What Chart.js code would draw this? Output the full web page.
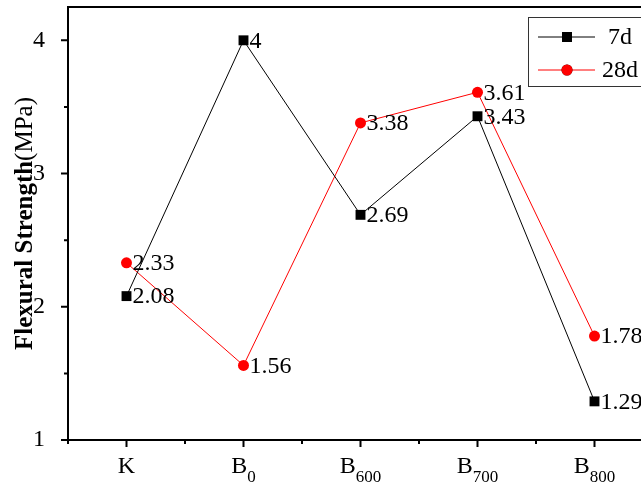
<!DOCTYPE html>
<html>
<head>
<meta charset="utf-8">
<script src="https://cdn.jsdelivr.net/npm/chart.js@4"></script>
<style>
html, body { margin: 0; padding: 0; overflow: hidden; background: #fff; }
#grafica { position: absolute; left: 0; top: 0; }
</style>
</head>
<body>
<canvas id="grafica" width="660" height="489"></canvas>
<script>
// categorias (la parte numerica se dibuja como subindice)
var categorias = ['K', 'B0', 'B600', 'B700', 'B800'];
var resistencia7d = [2.08, 4, 2.69, 3.43, 1.29];
var resistencia28d = [2.33, 1.56, 3.38, 3.61, 1.78];
var ticksY = [1, 2, 3, 4];
var ticksMenoresY = [1.5, 2.5, 3.5];
var nombreSeries = ['7d', '28d'];
var tituloNegrita = 'Flexural Strength';
var tituloNormal = '(MPa)';

var fuente = '"Liberation Serif", "Times New Roman", serif';

var dibujoExtra = {
    id: 'dibujoExtra',
    afterDraw: function (chart) {
        var ctx = chart.ctx;
        var area = chart.chartArea;
        var x = chart.scales.x;
        var y = chart.scales.y;
        ctx.save();

        // marco
        ctx.strokeStyle = '#000';
        ctx.lineWidth = 2;
        ctx.beginPath();
        ctx.moveTo(area.right + 5, area.top);
        ctx.lineTo(area.left, area.top);
        ctx.lineTo(area.left, area.bottom);
        ctx.lineTo(area.right + 5, area.bottom);
        ctx.stroke();

        // marcas eje x
        ctx.beginPath();
        categorias.forEach(function (c, i) {
            var px = x.getPixelForTick(i);
            ctx.moveTo(px, area.bottom);
            ctx.lineTo(px, area.bottom + 7);
        });
        for (var i = 0; i <= categorias.length; i++) {
            var pm = area.left + (i / categorias.length) * (area.right - area.left);
            ctx.moveTo(pm, area.bottom);
            ctx.lineTo(pm, area.bottom + 4);
        }
        // marcas eje y
        ticksY.forEach(function (v) {
            var py = y.getPixelForValue(v);
            ctx.moveTo(area.left, py);
            ctx.lineTo(area.left - 7, py);
        });
        ticksMenoresY.forEach(function (v) {
            var py = y.getPixelForValue(v);
            ctx.moveTo(area.left, py);
            ctx.lineTo(area.left - 4, py);
        });
        ctx.stroke();

        // etiquetas x con subindice
        ctx.fillStyle = '#000';
        ctx.textBaseline = 'alphabetic';
        ctx.textAlign = 'left';
        categorias.forEach(function (c, i) {
            var m = c.match(/^([A-Za-z]+)(\d*)$/);
            var base = m[1], sub = m[2];
            ctx.font = '24px ' + fuente;
            var wBase = ctx.measureText(base).width;
            ctx.font = '17px ' + fuente;
            var wSub = sub ? ctx.measureText(sub).width : 0;
            var inicio = x.getPixelForTick(i) - (wBase + wSub) / 2;
            ctx.font = '24px ' + fuente;
            ctx.fillText(base, inicio, 473);
            if (sub) {
                ctx.font = '17px ' + fuente;
                ctx.fillText(sub, inicio + wBase, 482);
            }
        });

        // titulo eje y
        ctx.save();
        ctx.translate(32, (area.top + area.bottom) / 2);
        ctx.rotate(-Math.PI / 2);
        ctx.font = 'bold 25px ' + fuente;
        var w1 = ctx.measureText(tituloNegrita).width;
        ctx.font = '25px ' + fuente;
        var w2 = ctx.measureText(tituloNormal).width;
        var x0 = -(w1 + w2) / 2;
        ctx.font = 'bold 25px ' + fuente;
        ctx.fillText(tituloNegrita, x0, 0);
        ctx.font = '25px ' + fuente;
        ctx.fillText(tituloNormal, x0 + w1, 0);
        ctx.restore();

        // etiquetas de datos
        ctx.font = '24px ' + fuente;
        ctx.textBaseline = 'middle';
        ctx.textAlign = 'left';
        chart.data.datasets.forEach(function (ds, di) {
            var meta = chart.getDatasetMeta(di);
            meta.data.forEach(function (p, j) {
                ctx.fillText(String(ds.data[j]), p.x + 6, p.y + 1);
            });
        });

        // leyenda
        ctx.strokeStyle = '#333';
        ctx.lineWidth = 1;
        ctx.strokeRect(528.5, 17.5, 140, 69);
        var filas = [37, 70];
        chart.data.datasets.forEach(function (ds, di) {
            var ly = filas[di];
            ctx.strokeStyle = ds.borderColor;
            ctx.lineWidth = 1;
            ctx.beginPath();
            ctx.moveTo(538, ly);
            ctx.lineTo(595, ly);
            ctx.stroke();
            Chart.helpers.drawPoint(ctx, {
                pointStyle: ds.pointStyle,
                radius: ds.pointRadius,
                borderWidth: 0,
                rotation: 0
            }, 567, ly);
            ctx.fillStyle = ds.pointBackgroundColor;
            ctx.fill();
            ctx.fillStyle = '#000';
            ctx.font = '24px ' + fuente;
            ctx.textAlign = 'center';
            ctx.textBaseline = 'middle';
            ctx.fillText(nombreSeries[di], 620, ly + 1);
        });

        ctx.restore();
    }
};

var ctx = document.getElementById('grafica').getContext('2d');
var grafica = new Chart(ctx, {
    type: 'line',
    data: {
        labels: categorias,
        datasets: [
            {
                label: nombreSeries[0],
                data: resistencia7d,
                borderColor: '#000',
                backgroundColor: '#000',
                pointBackgroundColor: '#000',
                pointBorderColor: '#000',
                pointStyle: 'rect',
                pointRadius: 7,
                pointBorderWidth: 0,
                borderWidth: 1,
                tension: 0
            },
            {
                label: nombreSeries[1],
                data: resistencia28d,
                borderColor: '#ff0000',
                backgroundColor: '#ff0000',
                pointBackgroundColor: '#ff0000',
                pointBorderColor: '#ff0000',
                pointStyle: 'circle',
                pointRadius: 5.5,
                pointBorderWidth: 0,
                borderWidth: 1,
                tension: 0
            }
        ]
    },
    options: {
        responsive: false,
        animation: false,
        devicePixelRatio: 1,
        layout: { padding: { top: 6, right: 2, left: 0, bottom: 0 } },
        plugins: {
            legend: { display: false },
            tooltip: { enabled: false }
        },
        scales: {
            x: {
                type: 'category',
                offset: true,
                grid: { display: false },
                border: { display: false },
                ticks: { display: false },
                afterFit: function (s) {
                    s.height = 49;
                    s.paddingLeft = 0;
                    s.paddingRight = 0;
                }
            },
            y: {
                min: 1,
                max: 4.25,
                grid: { display: false },
                border: { display: false },
                afterBuildTicks: function (s) {
                    s.ticks = ticksY.map(function (v) { return { value: v }; });
                },
                ticks: {
                    color: '#000',
                    padding: 15,
                    font: { family: fuente, size: 24 }
                },
                afterFit: function (s) {
                    s.width = 68;
                    s.paddingTop = 0;
                    s.paddingBottom = 0;
                }
            }
        }
    },
    plugins: [dibujoExtra]
});
</script>
</body>
</html>
